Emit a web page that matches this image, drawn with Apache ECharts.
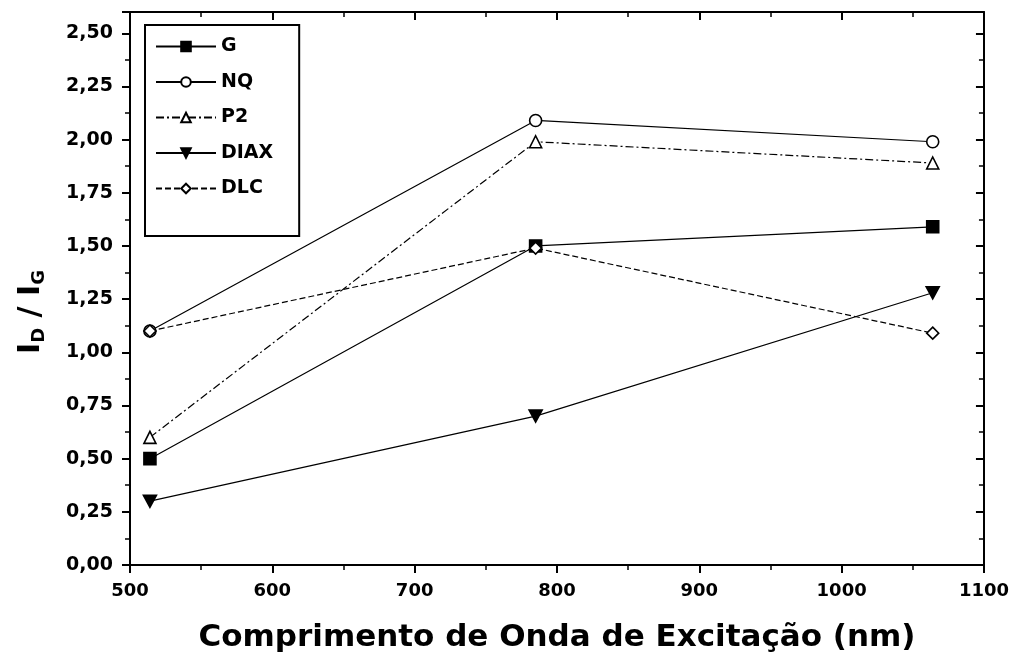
<!DOCTYPE html>
<html>
<head>
<meta charset="utf-8">
<script src="https://cdn.jsdelivr.net/npm/echarts@6/dist/echarts.min.js"></script>
<style>
  html, body { margin: 0; padding: 0; background: #fff; }
  #container { width: 1012px; height: 661px; }
</style>
</head>
<body>
<div id="container"></div>
<script>
var myChart = echarts.init(document.getElementById('container'));

// excitation wavelengths (nm)
var wavelengths = [514, 785, 1064];
// I_D / I_G ratios
var gData = [0.5, 1.5, 1.59];
var nqData = [1.1, 2.09, 1.99];
var p2Data = [0.6, 1.99, 1.89];
var diaxData = [0.3, 0.7, 1.28];
var dlcData = [1.1, 1.49, 1.09];

var FONT = '"DejaVu Sans", Arial, sans-serif';

function pairs(vals) {
  return wavelengths.map(function(x, i) { return [x, vals[i]]; });
}

function mkSeries(name, vals, symbol, filled, lineType) {
  return {
    name: name,
    type: 'line',
    data: pairs(vals),
    symbol: symbol,
    symbolSize: name === 'DIAX' ? [13, 12] : 12,
    showSymbol: true,
    lineStyle: { color: '#000', width: 1.2, type: lineType },
    itemStyle: {
      color: filled ? '#000' : '#fff',
      borderColor: '#000',
      borderWidth: 1.6
    },
    z: 3
  };
}

var tickStyle = { color: '#000', width: 2 };
var minorStyle = { color: '#000', width: 1.5 };

var option = {
  backgroundColor: '#fff',
  animation: false,
  textStyle: { fontFamily: FONT },
  grid: { left: 130, right: 27, top: 12, bottom: 96 },
  legend: {
    orient: 'vertical',
    left: 145,
    top: 25,
    padding: [12, 26, 38, 10],
    itemGap: 16.5,
    itemWidth: 60,
    itemHeight: 12,
    borderColor: '#000',
    borderWidth: 2,
    textStyle: { fontFamily: FONT, fontWeight: 'bold', fontSize: 19, color: '#000' },
    data: ['G', 'NQ', 'P2', 'DIAX', 'DLC']
  },
  graphic: [
    {
      type: 'text',
      x: 14,
      y: 312,
      rotation: Math.PI / 2,
      style: {
        text: '{a|I}{b|D}{a| / I}{b|G}',
        align: 'center',
        verticalAlign: 'top',
        rich: {
          a: { fontFamily: FONT, fontWeight: 'bold', fontSize: 30, color: '#000' },
          b: { fontFamily: FONT, fontWeight: 'bold', fontSize: 18, color: '#000', padding: [16, 0, 0, 0] }
        }
      }
    }
  ],
  xAxis: [
    {
      type: 'value',
      min: 500,
      max: 1100,
      interval: 100,
      name: 'Comprimento de Onda de Excitação (nm)',
      nameLocation: 'middle',
      nameGap: 57,
      nameTextStyle: { fontFamily: FONT, fontWeight: 'bold', fontSize: 31, color: '#000' },
      axisLine: { onZero: false, lineStyle: { color: '#000', width: 2 } },
      axisTick: { inside: false, length: 8, lineStyle: tickStyle },
      minorTick: { show: true, splitNumber: 2, length: 5, lineStyle: minorStyle },
      axisLabel: {
        fontFamily: FONT, fontWeight: 'bold', fontSize: 18, color: '#000', margin: 17,
        formatter: function(v) { return String(v); }
      },
      splitLine: { show: false }
    },
    {
      type: 'value',
      position: 'top',
      min: 500,
      max: 1100,
      interval: 100,
      axisLine: { onZero: false, lineStyle: { color: '#000', width: 2 } },
      axisTick: { inside: true, length: 8, lineStyle: tickStyle },
      minorTick: { show: true, splitNumber: 2, length: 5, lineStyle: minorStyle },
      axisLabel: { show: false },
      splitLine: { show: false }
    }
  ],
  yAxis: [
    {
      type: 'value',
      min: 0,
      max: 2.6,
      interval: 0.25,
      axisLine: { onZero: false, lineStyle: { color: '#000', width: 2 } },
      axisTick: { inside: false, length: 8, lineStyle: tickStyle },
      minorTick: { show: true, splitNumber: 2, length: 5, lineStyle: minorStyle },
      axisLabel: {
        fontFamily: FONT, fontWeight: 'bold', fontSize: 19, color: '#000', margin: 17,
        formatter: function(v) {
          if (Math.abs(v / 0.25 - Math.round(v / 0.25)) > 1e-6) return '';
          return v.toFixed(2).replace('.', ',');
        }
      },
      splitLine: { show: false }
    },
    {
      type: 'value',
      position: 'right',
      min: 0,
      max: 2.6,
      interval: 0.25,
      axisLine: { onZero: false, lineStyle: { color: '#000', width: 2 } },
      axisTick: { inside: true, length: 8, lineStyle: tickStyle },
      minorTick: { show: true, splitNumber: 2, length: 5, lineStyle: minorStyle },
      axisLabel: { show: false },
      splitLine: { show: false }
    }
  ],
  series: [
    mkSeries('G', gData, 'rect', true, 'solid'),
    mkSeries('NQ', nqData, 'circle', false, 'solid'),
    mkSeries('P2', p2Data, 'triangle', false, [8, 3, 2, 3]),
    mkSeries('DIAX', diaxData, 'path://M0,0 L10,0 L5,9 Z', true, 'solid'),
    mkSeries('DLC', dlcData, 'diamond', false, [6, 3])
  ]
};

myChart.setOption(option);
</script>
</body>
</html>
